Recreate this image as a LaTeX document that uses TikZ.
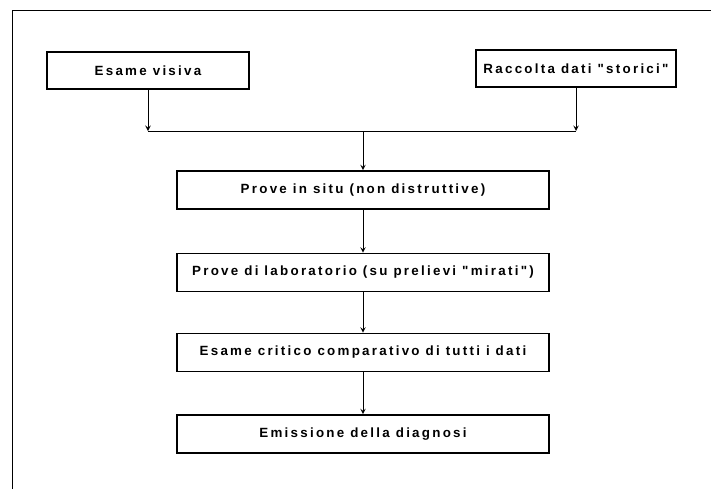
\documentclass[tikz,border=0pt]{standalone}
\usepackage{fontspec}
\newfontfamily\schema[LetterSpace=17]{Liberation Sans}

\begin{document}
\begin{tikzpicture}[x=0.025cm, y=-0.025cm, >=stealth, line width=0.7pt,
    font=\schema\bfseries\fontsize{9.5}{11}\selectfont,
    blocco/.style={draw, line width=1.1pt, minimum width=9.3cm, minimum height=0.95cm, inner sep=0pt}]
  \useasboundingbox (0,0) rectangle (711,489);
  % cornice (solo lati alto e sinistro)
  \draw (12,489) -- (12,10) -- (711,10);
  \node[blocco, minimum width=5.05cm, minimum height=0.93cm] (esame) at (148,70.5) {Esame visiva};
  \node[blocco, minimum width=5cm, minimum height=0.93cm] (storici) at (576,68.5) {Raccolta dati "storici"};
  \node[blocco] (insitu) at (363,190) {Prove in situ (non distruttive)};
  \node[blocco] (lab) at (363,272.5) {Prove di laboratorio (su prelievi "mirati")};
  \node[blocco] (critico) at (363,352.5) {Esame critico comparativo di tutti i dati};
  \node[blocco] (diagnosi) at (363,434) {Emissione della diagnosi};
  \coordinate (j) at (363,131);
  \draw[->] (esame) -- (esame |- j);
  \draw (esame |- j) -- (storici |- j);
  \draw[->] (storici) -- (storici |- j);
  \draw[->] (j) -- (insitu);
  \draw[->] (insitu) -- (lab);
  \draw[->] (lab) -- (critico);
  \draw[->] (critico) -- (diagnosi);
\end{tikzpicture}
\end{document}
